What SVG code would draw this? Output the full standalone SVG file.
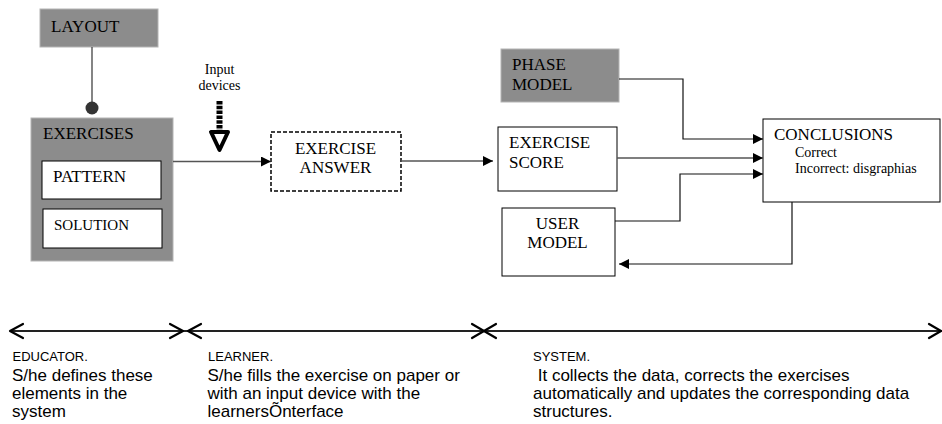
<svg xmlns="http://www.w3.org/2000/svg" width="942" height="424" viewBox="0 0 942 424">
<style>
.t{font-family:"Liberation Serif","Times New Roman",serif;font-size:17px;fill:#000}
.ts{font-family:"Liberation Serif","Times New Roman",serif;font-size:14px;fill:#000}
.a{font-family:"Liberation Sans",Arial,sans-serif;fill:#000}
.h{font-size:13px}
.b{font-size:17px}
.gray{fill:#8c8c8c;stroke:#b4b4b4;stroke-width:1}
.white{fill:#fff;stroke:#000;stroke-width:1}
.conn{fill:none;stroke:#555;stroke-width:1.3}
.connk{fill:none;stroke:#111;stroke-width:1.2}
.chev{fill:none;stroke:#000;stroke-width:2.2;stroke-linecap:round;stroke-linejoin:round}
</style>
<defs>
<marker id="ah" markerWidth="10" markerHeight="10" viewBox="0 0 10 10" refX="10" refY="5" orient="auto" markerUnits="userSpaceOnUse">
<path d="M0,0 L10,5 L0,10 Z" fill="#000"/>
</marker>
</defs>
<rect width="942" height="424" fill="#fff"/>

<g id="layout">
<rect class="gray" x="40" y="9" width="118" height="38"/>
<text class="t" x="51" y="32">LAYOUT</text>
</g>

<g id="exercises">
<rect class="gray" x="31" y="118" width="142" height="143"/>
<text class="t" x="43" y="139">EXERCISES</text>
<g id="pattern">
<rect class="white" x="42" y="161" width="119" height="38"/>
<text class="t" x="53" y="182">PATTERN</text>
</g>
<g id="solution">
<rect class="white" x="43" y="209" width="119" height="39"/>
<text class="t" x="54" y="230" style="font-size:15px">SOLUTION</text>
</g>
</g>

<g id="input-devices">
<text class="ts" x="219.5" y="74" text-anchor="middle">Input</text>
<text class="ts" x="219.5" y="90" text-anchor="middle">devices</text>
<line x1="219.5" y1="101" x2="219.5" y2="134" stroke="#000" stroke-width="6" stroke-dasharray="3.5 1.3"/>
<polygon points="211,132 228,132 219.5,150" fill="#fff" stroke="#000" stroke-width="4" stroke-linejoin="round"/>
</g>

<g id="exercise-answer">
<rect x="271" y="132" width="130" height="59" fill="#fff" stroke="#000" stroke-width="1.5" stroke-dasharray="4 2"/>
<text class="t" x="335.5" y="154" text-anchor="middle">EXERCISE</text>
<text class="t" x="335.5" y="173" text-anchor="middle">ANSWER</text>
</g>

<g id="phase-model">
<rect class="gray" x="501" y="49" width="118" height="53"/>
<text class="t" x="512" y="70">PHASE</text>
<text class="t" x="512" y="90">MODEL</text>
</g>

<g id="exercise-score">
<rect class="white" x="498" y="127" width="119" height="64"/>
<text class="t" x="509" y="148">EXERCISE</text>
<text class="t" x="509" y="167.5">SCORE</text>
</g>

<g id="user-model">
<rect class="white" x="502" y="208" width="113" height="68"/>
<text class="t" x="557.5" y="229" text-anchor="middle">USER</text>
<text class="t" x="557.5" y="248" text-anchor="middle">MODEL</text>
</g>

<g id="conclusions">
<rect class="white" x="763" y="119" width="177" height="83"/>
<text class="t" x="774" y="140">CONCLUSIONS</text>
<text class="ts" x="795" y="156.5">Correct</text>
<text class="ts" x="795" y="173">Incorrect: disgraphias</text>
</g>

<g id="connectors">
<line x1="92" y1="47" x2="92" y2="102" stroke="#333" stroke-width="1.2"/>
<circle cx="92" cy="108" r="6.5" fill="#333"/>
<line class="conn" x1="173" y1="161.5" x2="271" y2="161.5" marker-end="url(#ah)"/>
<line class="conn" x1="401" y1="161" x2="493" y2="161" marker-end="url(#ah)"/>
<polyline class="connk" points="619,79 683,79 683,139 763,139" marker-end="url(#ah)"/>
<line class="conn" x1="617" y1="158" x2="763" y2="158" marker-end="url(#ah)"/>
<polyline class="connk" points="615,221 680,221 680,174 763,174" marker-end="url(#ah)"/>
<polyline class="connk" points="792,202 792,264 619,264" marker-end="url(#ah)"/>
</g>

<g id="phases">
<line x1="10" y1="331" x2="942" y2="331" stroke="#222" stroke-width="1.8"/>
<polyline class="chev" points="23,324 10,331 23,338"/>
<polyline class="chev" points="170,324 183,331 170,338"/>
<polyline class="chev" points="201,324 188,331 201,338"/>
<polyline class="chev" points="472,324 484,331 472,338"/>
<polyline class="chev" points="496,324 484,331 496,338"/>
<polyline class="chev" points="929,324 941,331 929,338"/>
</g>

<g id="educator">
<text class="a h" x="12.5" y="361">EDUCATOR.</text>
<text class="a b" x="12" y="380.5">S/he defines these</text>
<text class="a b" x="12" y="398.5">elements in the</text>
<text class="a b" x="12" y="416.5">system</text>
</g>

<g id="learner">
<text class="a h" x="208" y="361">LEARNER.</text>
<text class="a b" x="207.5" y="380.5">S/he fills the exercise on paper or</text>
<text class="a b" x="207.5" y="398.5">with an input device with the</text>
<text class="a b" x="207.5" y="416.5">learnersÕnterface</text>
</g>

<g id="system">
<text class="a h" x="533" y="361">SYSTEM.</text>
<text class="a b" x="533" y="380.5" xml:space="preserve"> It collects the data, corrects the exercises</text>
<text class="a b" x="533" y="398.5">automatically and updates the corresponding data</text>
<text class="a b" x="533" y="416.5">structures.</text>
</g>
</svg>
